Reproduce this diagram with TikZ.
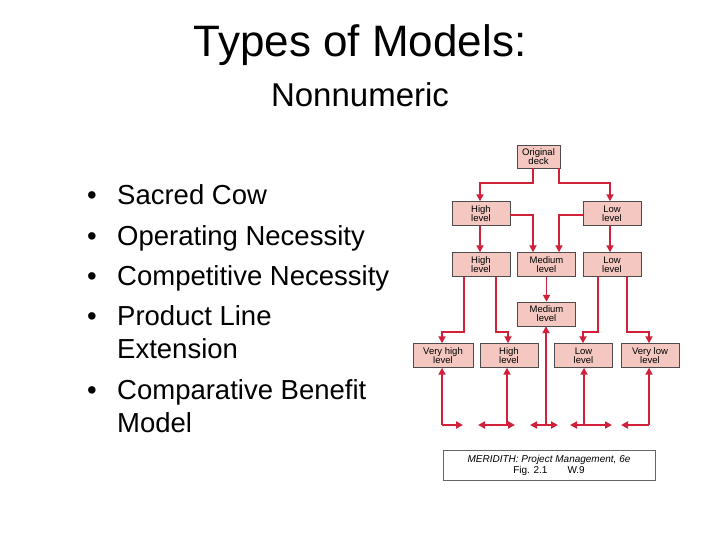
\documentclass[tikz,border=0pt]{standalone}
\usepackage{fontspec}
\setmainfont{Liberation Sans}
\usetikzlibrary{arrows.meta}
\definecolor{boxfill}{HTML}{F4C8C0}
\definecolor{arr}{HTML}{D0203A}
\tikzset{
 bx/.style={draw=black!70,fill=boxfill,minimum width=58pt,minimum height=24pt,inner sep=0pt,font=\fontsize{9.5}{9}\selectfont,align=center},
 ar/.style={draw=arr,line width=1.8pt,-{Triangle[length=7pt,width=7pt]}},
 dar/.style={draw=arr,line width=1.8pt,{Triangle[length=7pt,width=7pt]}-{Triangle[length=7pt,width=7pt]}},
}
\begin{document}
\begin{tikzpicture}[x=1pt,y=-1pt]
\useasboundingbox (0,0) rectangle (720,540);
\node (t1) at (360,45) {\fontsize{44}{44}\selectfont Types of Models:};
\node (t2) at (360,95) {\fontsize{33}{33}\selectfont Nonnumeric};
\foreach \y/\t/\b in {196/Sacred Cow/1,236/Operating Necessity/1,276/Competitive Necessity/1,316/Product Line/1,349/Extension/0,390/Comparative Benefit/1,423/Model/0}{
 \node[anchor=base west,font=\fontsize{27.5}{27.5}\selectfont,inner sep=0pt] at (117,\y+9) {\t};
 \ifnum\b=1 \node[anchor=base,font=\fontsize{27.5}{27.5}\selectfont,inner sep=0pt] at (92,\y+9) {•};\fi
}
\node[bx,minimum width=43pt,minimum height=23pt] (od) at (538.5,156.5) {Original\\deck};
\node[bx] (h2) at (481,213.5) {High\\level};
\node[bx] (l2) at (612,213.5) {Low\\level};
\node[bx] (h3) at (481,264.5) {High\\level};
\node[bx] (m3) at (546.5,264.5) {Medium\\level};
\node[bx] (l3) at (612,264.5) {Low\\level};
\node[bx] (m4) at (546.5,314) {Medium\\level};
\node[bx,minimum width=60pt] (vh) at (443,355.5) {Very high\\level};
\node[bx] (h5) at (509,355.5) {High\\level};
\node[bx] (l5) at (583.5,355.5) {Low\\level};
\node[bx] (vl) at (650,355.5) {Very low\\level};
\coordinate (b1) at (442,425); \coordinate (b2) at (507,425);
\coordinate (b3) at (546,425); \coordinate (b4) at (584,425); \coordinate (b5) at (649,425);
\draw[ar] (od.south -| 533,0) |- (480,183) -- (h2.north -| 480,0);
\draw[ar] (od.south -| 559,0) |- (610,183) -- (l2.north -| 610,0);
\draw[ar] (h2.south -| 480,0) -- (h3.north -| 480,0);
\draw[ar] (h2.east |- 0,215) -| (m3.north -| 533,0);
\draw[ar] (l2.west |- 0,215) -| (m3.north -| 559,0);
\draw[ar] (l2.south -| 610,0) -- (l3.north -| 610,0);
\draw[ar] (m3) -- (m4);
\draw[ar] (h3.south -| 464,0) |- (442,332) -- (vh.north -| 442,0);
\draw[ar] (h3.south -| 496,0) |- (508,332) -- (h5.north -| 508,0);
\draw[ar] (l3.south -| 598,0) |- (583,332) -- (l5.north -| 583,0);
\draw[ar] (l3.south -| 627,0) |- (649,332) -- (vl.north -| 649,0);
\draw[ar] (b1) -- (vh.south -| b1);
\draw[ar] (b2) -- (h5.south -| b2);
\draw[ar] (b3) -- (m4.south -| b3);
\draw[ar] (b4) -- (l5.south -| b4);
\draw[ar] (b5) -- (vl.south -| b5);
\draw[ar] (b1) -- (463,425);
\draw[dar] (478,425) -- (515,425);
\draw[dar] (530,425) -- (558,425);
\draw[dar] (570,425) -- (612,425);
\draw[ar] (b5) -- (621,425);
\node[draw=black!60,minimum width=212pt,minimum height=30pt,inner sep=0pt,align=center,font=\fontsize{10}{11}\selectfont] (cap) at (549,465) {\textit{MERIDITH: Project Management, 6e}\\Fig. 2.1\qquad W.9};
\end{tikzpicture}
\end{document}
